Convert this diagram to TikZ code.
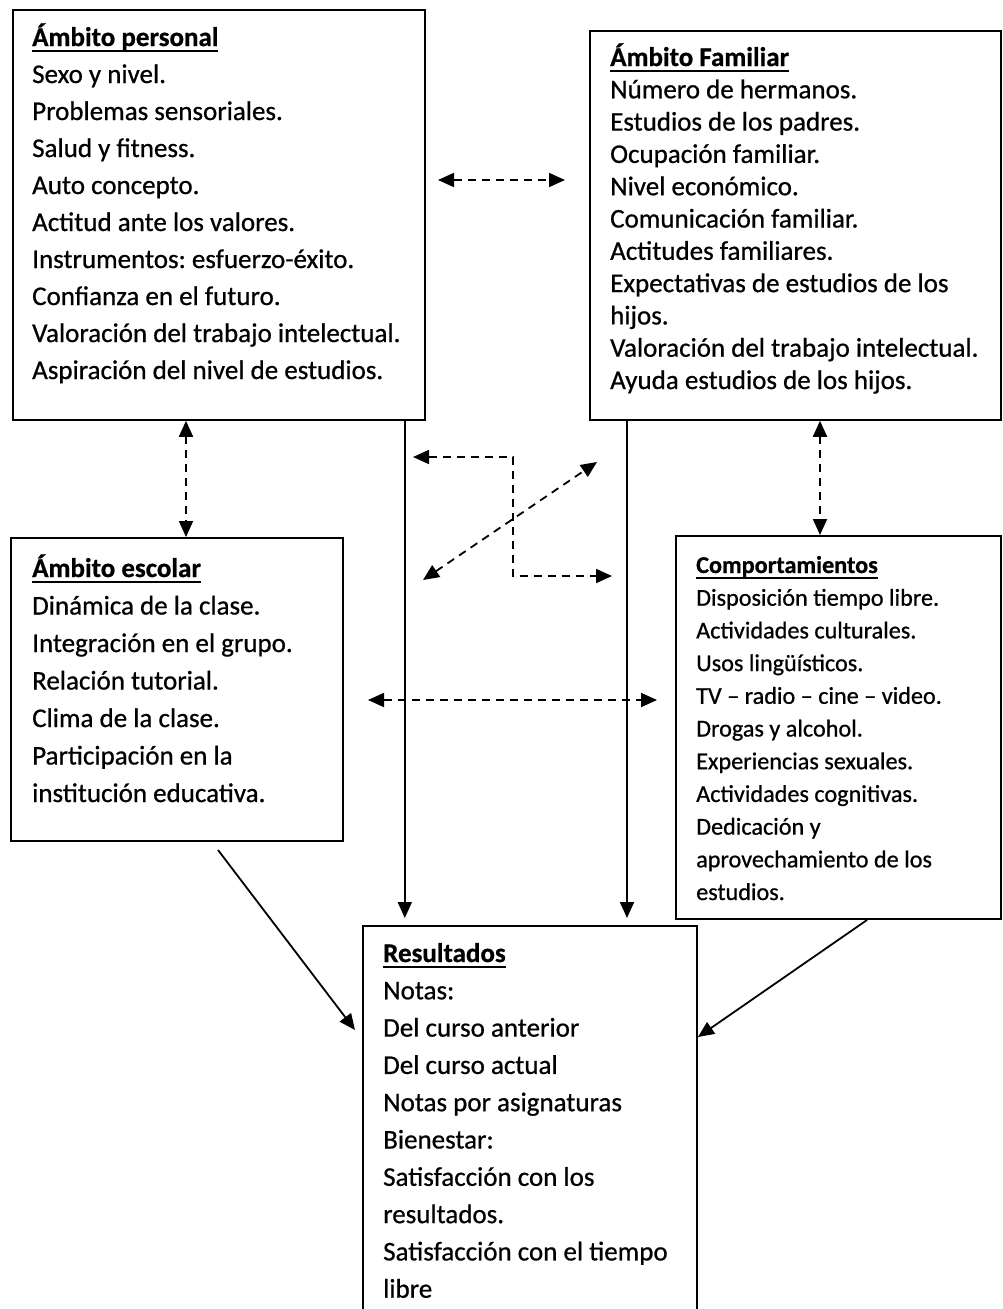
\documentclass[tikz,border=0pt]{standalone}
\usepackage{fontspec}
\setmainfont{Carlito}[RawFeature={embolden=0.7}]
\usetikzlibrary{arrows.meta}
\frenchspacing
\newcommand\hdul[1]{\setbox0=\hbox{\bfseries #1}\rlap{\rule[-6pt]{\wd0}{2pt}}\box0}
\tikzset{
  box/.style={draw, line width=1.8pt, rectangle, inner sep=0pt, anchor=north west},
  txt/.style={anchor=base west, inner sep=0pt, font=\fontsize{27}{32}\selectfont},
  stxt/.style={anchor=base west, inner sep=0pt, font=\fontsize{24.2}{30}\selectfont},
  link/.style={line width=1.8pt, -{Triangle[length=16pt,width=14pt]}},
  dlink/.style={line width=1.8pt, dash pattern=on 8pt off 6pt, {Triangle[length=16pt,width=14pt]}-{Triangle[length=16pt,width=14pt]}}
}
\begin{document}
\begin{tikzpicture}[x=1pt,y=-1pt]
\useasboundingbox (0,0) rectangle (1002,1309);
\begin{scope}
\clip (0,0) rectangle (1002,1309);
% boxes
\node[box, minimum width=412pt, minimum height=410pt] (pers) at (12,9) {};
\node[box, minimum width=411pt, minimum height=389pt] (fam) at (589,30) {};
\node[box, minimum width=332pt, minimum height=303pt] (esc) at (10,537) {};
\node[box, minimum width=325pt, minimum height=383pt] (comp) at (675,535) {};
\node[box, minimum width=334pt, minimum height=420pt] (res) at (362,925) {};
\end{scope}
% texts: personal
\foreach \t [count=\i from 0] in {\hdul{Ámbito personal},Sexo y nivel.,Problemas sensoriales.,Salud y fitness.,Auto concepto.,Actitud ante los valores.,Instrumentos: esfuerzo-éxito.,Confianza en el futuro.,Valoración del trabajo intelectual.,Aspiración del nivel de estudios.}
  \node[txt] (pt\i) at (32,{46+37*\i}) {\t};
% familiar
\foreach \t [count=\i from 0] in {\hdul{Ámbito Familiar},Número de hermanos.,Estudios de los padres.,Ocupación familiar.,Nivel económico.,Comunicación familiar.,Actitudes familiares.,Expectativas de estudios de los,hijos.,Valoración del trabajo intelectual.,Ayuda estudios de los hijos.}
  \node[txt] (ft\i) at (610,{66+32.3*\i}) {\t};
% escolar
\foreach \t [count=\i from 0] in {\hdul{Ámbito escolar},Dinámica de la clase.,Integración en el grupo.,Relación tutorial.,Clima de la clase.,Participación en la,institución educativa.}
  \node[txt] (et\i) at (32,{577+37.5*\i}) {\t};
% comportamientos
\foreach \t [count=\i from 0] in {\hdul{Comportamientos},Disposición tiempo libre.,Actividades culturales.,Usos lingüísticos.,TV – radio – cine – video.,Drogas y alcohol.,Experiencias sexuales.,Actividades cognitivas.,Dedicación y,aprovechamiento de los,estudios.}
  \node[stxt] (ct\i) at (696,{573+32.7*\i}) {\t};
% resultados
\foreach \t [count=\i from 0] in {\hdul{Resultados},Notas:,Del curso anterior,Del curso actual,Notas por asignaturas,Bienestar:,Satisfacción con los,resultados.,Satisfacción con el tiempo,libre}
  \node[txt] (rt\i) at (383,{962+37.3*\i}) {\t};
% connectors
\coordinate (t1) at (438,180); \coordinate (t2) at (565,180);
\draw[dlink] (t1) -- (t2);
\draw[dlink] ([xshift=174pt]pers.south west) -- ([xshift=176pt]esc.north west);
\draw[dlink] ([xshift=231pt]fam.south west) -- ([xshift=145pt]comp.north west);
\coordinate (e1) at (413,457); \coordinate (e2) at (612,576);
\draw[dlink] (e1) -- (513,457) -- (513,576) -- (e2);
\coordinate (d1) at (423,580); \coordinate (d2) at (597,462);
\draw[dlink] (d1) -- (d2);
\coordinate (h1) at (368,700); \coordinate (h2) at (657,700);
\draw[dlink] (h1) -- (h2);
\draw[link] ([xshift=-21pt]pers.south east) -- ([xshift=-21pt,yshift=7pt]pers.south east |- res.north);
\draw[link] ([xshift=38pt]fam.south west) -- ([xshift=38pt,yshift=7pt]fam.south west |- res.north);
\coordinate (s1) at (218,850); \coordinate (s2) at (355,1030);
\draw[link] (s1) -- (s2);
\coordinate (r1) at (867,920); \coordinate (r2) at (698,1037);
\draw[link] (r1) -- (r2);
\end{tikzpicture}
\end{document}
